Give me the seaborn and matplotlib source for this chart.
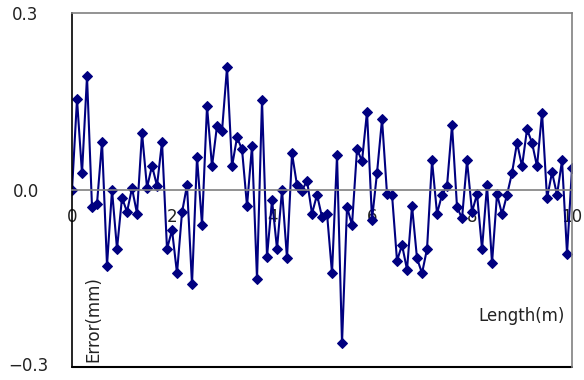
import numpy as np
import pandas as pd
import matplotlib
matplotlib.use('Agg')
import matplotlib.pyplot as plt
import seaborn as sns

# Data (length step 0.1 m)
length = [0.0, 0.1, 0.2, 0.3, 0.4, 0.5, 0.6, 0.7, 0.8, 0.9,
          1.0, 1.1, 1.2, 1.3, 1.4, 1.5, 1.6, 1.7, 1.8, 1.9,
          2.0, 2.1, 2.2, 2.3, 2.4, 2.5, 2.6, 2.7, 2.8, 2.9,
          3.0, 3.1, 3.2, 3.3, 3.4, 3.5, 3.6, 3.7, 3.8, 3.9,
          4.0, 4.1, 4.2, 4.3, 4.4, 4.5, 4.6, 4.7, 4.8, 4.9,
          5.0, 5.1, 5.2, 5.3, 5.4, 5.5, 5.6, 5.7, 5.8, 5.9,
          6.0, 6.1, 6.2, 6.3, 6.4, 6.5, 6.6, 6.7, 6.8, 6.9,
          7.0, 7.1, 7.2, 7.3, 7.4, 7.5, 7.6, 7.7, 7.8, 7.9,
          8.0, 8.1, 8.2, 8.3, 8.4, 8.5, 8.6, 8.7, 8.8, 8.9,
          9.0, 9.1, 9.2, 9.3, 9.4, 9.5, 9.6, 9.7, 9.8, 9.9,
          10.0]
error = [0.000, 0.154, 0.028, 0.193, -0.029, -0.023, 0.082, -0.128, 0.000, -0.100,
         -0.013, -0.037, 0.003, -0.040, 0.097, 0.004, 0.041, 0.007, 0.082, -0.100,
         -0.068, -0.141, -0.038, 0.008, -0.160, 0.056, -0.059, 0.142, 0.040, 0.109,
         0.100, 0.208, 0.040, 0.089, 0.069, -0.027, 0.075, -0.151, 0.153, -0.113,
         -0.017, -0.100, 0.000, -0.116, 0.062, 0.008, -0.001, 0.016, -0.040, -0.008,
         -0.046, -0.040, -0.141, 0.059, -0.260, -0.029, -0.059, 0.069, 0.049, 0.133,
         -0.050, 0.029, 0.120, -0.007, -0.008, -0.120, -0.093, -0.135, -0.027, -0.116,
         -0.141, -0.100, 0.050, -0.040, -0.008, 0.007, 0.110, -0.029, -0.048, 0.050,
         -0.037, -0.007, -0.100, 0.008, -0.124, -0.007, -0.041, -0.008, 0.029, 0.080,
         0.040, 0.103, 0.080, 0.040, 0.131, -0.014, 0.030, -0.008, 0.050, -0.108,
         0.037]
x_ticks = [0, 2, 4, 6, 8, 10]
y_ticks = [-0.3, 0.0, 0.3]
y_labels = ['\u22120.3', '0.0', '0.3']

df = pd.DataFrame({'Length': length, 'Error': error})

sns.set_style('white')
plt.rcParams['font.family'] = ['DejaVu Sans']

fig = plt.figure(figsize=(5.84, 3.80), dpi=100)
ax = fig.add_axes([0.1233, 0.0342, 0.8562, 0.9316])

sns.lineplot(data=df, x='Length', y='Error', ax=ax, sort=False,
             color='#000080', lw=1.5, marker='D', markersize=5,
             markeredgecolor='#000080', markerfacecolor='#000080')

ax.set_xlim(0, 10)
ax.set_ylim(-0.3, 0.3)
ax.set_xticks(x_ticks)
ax.set_xticklabels([str(t) for t in x_ticks])
ax.set_yticks(y_ticks)
# bottom label drawn by hand on its baseline so it stays inside the figure
ax.set_yticklabels([''] + y_labels[1:])
ax.text(-24 / 500, -0.3 - 4 / 590, y_labels[0], transform=ax.get_yaxis_transform(),
        ha='right', va='baseline', fontsize=12, color='#222222')
ax.set_xlabel('')
ax.set_ylabel('')

# x axis crosses at zero
ax.spines['bottom'].set_position(('data', 0))
ax.spines['bottom'].set_color('#808080')
ax.spines['bottom'].set_linewidth(1.2)
for s in ['top', 'right']:
    ax.spines[s].set_visible(True)
    ax.spines[s].set_color('#808080')
    ax.spines[s].set_linewidth(1.2)
ax.spines['left'].set_color('black')
ax.spines['left'].set_linewidth(1.2)
ax.axhline(-0.3, color='black', lw=1.5, clip_on=False, zorder=0)

ax.tick_params(axis='x', direction='in', length=4, width=1, color='#808080',
               pad=13, labelsize=12, labelcolor='#222222')
ax.tick_params(axis='y', length=0, pad=24, labelsize=12, labelcolor='#222222')
for lab in ax.get_xticklabels():
    lab.set_zorder(1)

ax.text(0.986, 0.145, 'Length(m)', transform=ax.transAxes, ha='right',
        va='center', fontsize=12, color='#222222')
ax.text(0.042, 0.014, 'Error(mm)', transform=ax.transAxes, ha='center',
        va='bottom', rotation=90, fontsize=12, color='#222222')

plt.savefig('out.png', dpi=100)
